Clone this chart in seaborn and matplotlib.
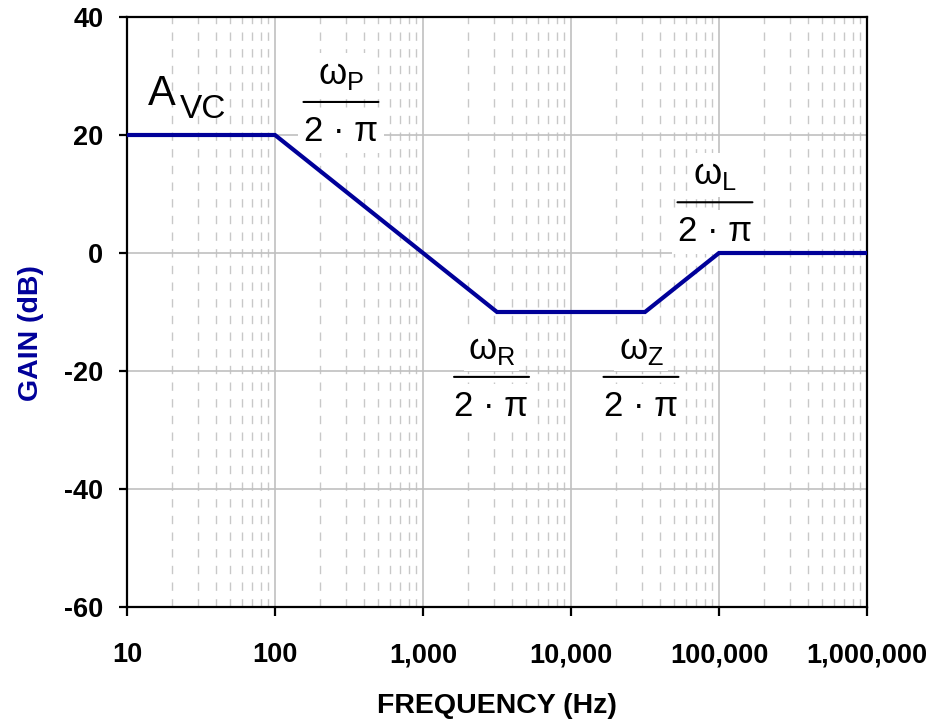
import matplotlib
matplotlib.use("Agg")
import matplotlib.pyplot as plt
import matplotlib.ticker as mticker
import matplotlib.transforms as mtransforms
import seaborn as sns
import pandas as pd

# Data (asymptotic Bode gain)
freq_hz = [10, 100, 3162, 31623, 100000, 1000000]
gain_db = [20, 20, -10, -10, 0, 0]

x_ticks = [10, 100, 1000, 10000, 100000, 1000000]
y_ticks = [-60, -40, -20, 0, 20, 40]

frac_num = [r"$\omega_\mathrm{P}$", r"$\omega_\mathrm{R}$", r"$\omega_\mathrm{Z}$", r"$\omega_\mathrm{L}$"]
frac_den = "2 \u00b7 \u03c0"
frac_x = [279, 2904, 29700, 93900]
frac_y = [25.6, -21.0, -21.0, 8.6]

sns.set_style("white")
plt.rcParams["font.family"] = ["Liberation Sans", "DejaVu Sans"]
plt.rcParams["mathtext.fontset"] = "custom"
plt.rcParams["mathtext.rm"] = "Liberation Sans"
plt.rcParams["mathtext.it"] = "Liberation Sans"
plt.rcParams["mathtext.bf"] = "Liberation Sans:bold"
plt.rcParams["mathtext.sf"] = "Liberation Sans"
plt.rcParams["axes.unicode_minus"] = False
for k in ["text.color", "axes.labelcolor", "xtick.color", "ytick.color"]:
    plt.rcParams[k] = "black"

df = pd.DataFrame({"freq": freq_hz, "gain": gain_db})

fig = plt.figure(figsize=(9.52, 7.23), dpi=100)
ax = fig.add_axes([127 / 952, 116 / 723, 740 / 952, 590 / 723])

ax.set_xscale("log")
sns.lineplot(data=df, x="freq", y="gain", ax=ax, color="#000099", lw=3.0,
             zorder=6, solid_joinstyle="miter")

ax.set_xlim(10, 1e6)
ax.set_ylim(-60, 40)
ax.set_xticks(x_ticks)
ax.set_yticks(y_ticks)
ax.xaxis.set_major_formatter(mticker.FuncFormatter(lambda v, p: f"{int(round(v)):,}"))
ax.yaxis.set_major_formatter(mticker.FuncFormatter(lambda v, p: f"{int(round(v))}"))
ax.xaxis.set_minor_locator(mticker.LogLocator(base=10, subs=range(2, 10), numticks=20))
ax.xaxis.set_minor_formatter(mticker.NullFormatter())

ax.grid(True, which="major", axis="both", color="#c0c0c0", lw=1.2, ls="-", zorder=0)
ax.grid(True, which="minor", axis="x", color="#c8c8c8", lw=1.0, ls=(0, (6, 6)), zorder=0)
ax.set_axisbelow(True)

for s in ax.spines.values():
    s.set_visible(True)
    s.set_color("black")
    s.set_linewidth(1.6)

ax.tick_params(axis="x", which="major", direction="out", length=6.5, width=1.6,
               pad=19, labelsize=19.5, bottom=True)
ax.tick_params(axis="x", which="minor", length=0)
ax.tick_params(axis="y", which="major", direction="out", length=6, width=1.6,
               pad=11, labelsize=19.5, left=True)
for lab in ax.get_xticklabels() + ax.get_yticklabels():
    lab.set_fontweight("bold")

ax.set_xlabel("FREQUENCY (Hz)", fontsize=20.5, fontweight="bold")
ax.xaxis.set_label_coords(0.5, -0.145)
ax.set_ylabel("GAIN (dB)", fontsize=20.5, fontweight="bold", color="#000099")
ax.yaxis.set_label_coords(-0.112, 0.465)

# A_VC label
ax.text(13.9, 25.1, "A", fontsize=30, ha="left", va="baseline", zorder=3)
ax.text(22.8, 22.9, "VC", fontsize=24, ha="left", va="baseline", zorder=3)

# omega / (2 pi) fraction labels
for num, xx, yy in zip(frac_num, frac_x, frac_y):
    ax.annotate(num, xy=(xx, yy), xytext=(0, 13), textcoords="offset points",
                fontsize=26, ha="center", va="baseline", zorder=3,
                bbox=dict(facecolor="white", edgecolor="none", pad=3))
    ax.annotate(frac_den, xy=(xx, yy), xytext=(0, -28), textcoords="offset points",
                fontsize=25, ha="center", va="baseline", zorder=3,
                bbox=dict(facecolor="white", edgecolor="none", pad=4))
    left = mtransforms.offset_copy(ax.transData, fig=fig, x=-27, y=0, units="points")
    ax.annotate("", xy=(xx, yy), xycoords=left, xytext=(54, 0), textcoords="offset points",
                arrowprops=dict(arrowstyle="-", color="black", lw=1.5,
                                shrinkA=0, shrinkB=0), zorder=4)

fig.savefig("out.png", dpi=100)
